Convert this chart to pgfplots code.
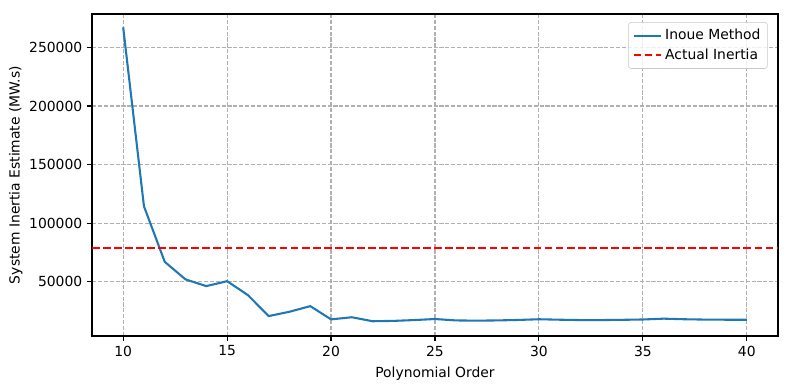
\documentclass[border=0pt]{standalone}
\usepackage{pgfplots}
\pgfplotsset{compat=1.18}
\usepackage{fontspec}
\setmainfont{DejaVu Sans}
\definecolor{mplblue}{HTML}{1F77B4}
\definecolor{gridgray}{HTML}{B0B0B0}
\begin{document}
\begin{tikzpicture}
\useasboundingbox (-66.24pt,-38.88pt) rectangle (502.56pt,241.92pt);
\begin{axis}[
  at={(0,0)}, anchor=south west,
  scale only axis, width=493.9pt, height=231.8pt,
  xmin=8.5, xmax=41.5, ymin=3700, ymax=278500,
  xtick={10,15,20,25,30,35,40},
  xticklabels={10,15,20,25,30,35,40},
  ytick={50000,100000,150000,200000,250000},
  yticklabels={50000,100000,150000,200000,250000},
  scaled y ticks=false,
  tick label style={font=\fontsize{10}{12}\selectfont},
  label style={font=\fontsize{10}{12}\selectfont},
  xlabel={Polynomial Order},
  ylabel={System Inertia Estimate (MW.s)},
  xlabel style={yshift=-1pt},
  ylabel style={yshift=-2pt},
  tick align=outside, tick pos=left,
  major tick length=3.5pt,
  every tick/.style={black, line width=0.8pt},
  axis line style={line width=0.8pt},
  grid=major,
  major grid style={gridgray, dash pattern=on 2.96pt off 1.28pt, line width=0.8pt},
  legend image code/.code={\draw[#1] (0pt,0pt) -- (20pt,0pt);},
  legend style={font=\fontsize{10}{12}\selectfont, draw=gridgray!70, rounded corners=2pt, fill=white, fill opacity=0.8, text opacity=1, inner sep=3pt, row sep=1pt, at={(0.985,0.975)}, anchor=north east},
  legend cell align=left,
]
\addplot[mplblue, line width=1.5pt] coordinates {
(10,267200) (11,114400) (12,67000) (13,52000) (14,46300) (15,50500) (16,38600) (17,20700) (18,24400) (19,29200) (20,17900) (21,19700) (22,16300) (23,16600) (24,17300) (25,18200) (26,17000) (27,16800) (28,17000) (29,17400) (30,18000) (31,17600) (32,17300) (33,17300) (34,17500) (35,17800) (36,18500) (37,18000) (38,17700) (39,17600) (40,17600)
};
\addlegendentry{Inoue Method}
\addplot[red, dash pattern=on 5.55pt off 2.4pt, line width=1.5pt] coordinates {(8.5,78600) (41.5,78600)};
\addlegendentry{Actual Inertia}
\end{axis}
\end{tikzpicture}
\end{document}
